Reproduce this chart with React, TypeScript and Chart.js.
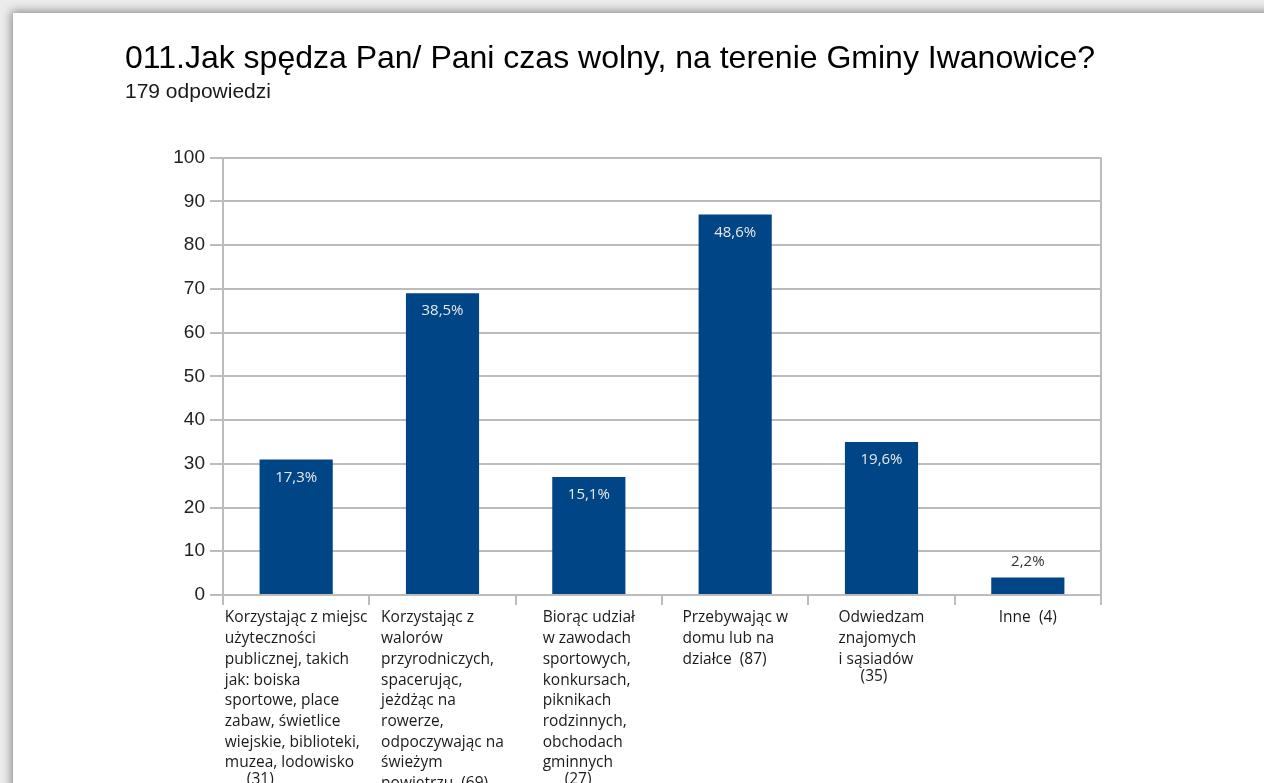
import React, { useEffect, useRef } from "react";
import { Chart, registerables } from "chart.js";

Chart.register(...registerables);

const TITLE = "011.Jak spędza Pan/ Pani czas wolny, na terenie Gminy Iwanowice?";
const SUBTITLE = "179 odpowiedzi";
const TOTAL = 179;

const categoryLines: string[][] = [
  [
    "Korzystając z miejsc",
    "użyteczności",
    "publicznej, takich",
    "jak: boiska",
    "sportowe, place",
    "zabaw, świetlice",
    "wiejskie, biblioteki,",
    "muzea, lodowisko",
  ],
  [
    "Korzystając z",
    "walorów",
    "przyrodniczych,",
    "spacerując,",
    "jeżdżąc na",
    "rowerze,",
    "odpoczywając na",
    "świeżym",
    "powietrzu",
  ],
  [
    "Biorąc udział",
    "w zawodach",
    "sportowych,",
    "konkursach,",
    "piknikach",
    "rodzinnych,",
    "obchodach",
    "gminnych",
  ],
  ["Przebywając w", "domu lub na", "działce"],
  ["Odwiedzam", "znajomych", "i sąsiadów"],
  ["Inne"],
];
const counts = [31, 69, 27, 87, 35, 4];
const countOnOwnLine = [true, false, true, false, true, false];

const Y_MIN = 0;
const Y_MAX = 100;
const Y_STEP = 10;

const BAR_COLOR = "#004586";
const GRID_COLOR = "#bcbcbc";
const LABEL_FONT = "'Open Sans'";

const categories = categoryLines.map((l) => l.join(" "));
const percentLabels = counts.map((c) => ((c / TOTAL) * 100).toFixed(1).replace(".", ",") + "%");

const labelsPlugin = {
  id: "customLabels",
  afterDatasetsDraw(chart: any) {
    const ctx = chart.ctx;
    const meta = chart.getDatasetMeta(0);
    ctx.save();
    ctx.font = `15px ${LABEL_FONT}`;
    ctx.textAlign = "center";
    ctx.textBaseline = "middle";
    meta.data.forEach((bar: any, i: number) => {
      const h = bar.base - bar.y;
      if (h > 30) {
        ctx.fillStyle = "#e8e8e8";
        ctx.fillText(percentLabels[i], bar.x, bar.y + 18);
      } else {
        ctx.fillStyle = "#333333";
        ctx.fillText(percentLabels[i], bar.x, bar.y - 16);
      }
    });
    ctx.restore();
  },
  afterDraw(chart: any) {
    const ctx = chart.ctx;
    const xs = chart.scales.x;
    const area = chart.chartArea;
    ctx.save();
    // right wall line
    ctx.strokeStyle = GRID_COLOR;
    ctx.lineWidth = 2;
    ctx.beginPath();
    ctx.moveTo(area.right, area.top);
    ctx.lineTo(area.right, area.bottom);
    ctx.stroke();

    ctx.font = `15.5px ${LABEL_FONT}`;
    ctx.fillStyle = "#1a1a1a";
    ctx.textAlign = "left";
    ctx.textBaseline = "middle";
    const lineH = 20.7;
    const y0 = area.bottom + 23;
    categoryLines.forEach((lines, i) => {
      const cx = xs.getPixelForValue(i);
      const all = lines.slice();
      const countText = `(${counts[i]})`;
      if (!countOnOwnLine[i]) all[all.length - 1] = all[all.length - 1] + "  " + countText;
      const maxW = Math.max(...all.map((l) => ctx.measureText(l).width));
      const left = cx - maxW / 2;
      all.forEach((l, k) => ctx.fillText(l, left, y0 + k * lineH));
      if (countOnOwnLine[i]) {
        ctx.fillText(countText, left + 22, y0 + (all.length - 1) * lineH + 17);
      }
    });
    ctx.restore();
  },
};

export default function App() {
  const ref = useRef<HTMLCanvasElement>(null);
  useEffect(() => {
    if (!ref.current) return;
    const chart = new Chart(ref.current, {
      type: "bar",
      data: {
        labels: categories,
        datasets: [
          {
            data: counts,
            backgroundColor: BAR_COLOR,
            barPercentage: 0.5,
            categoryPercentage: 1,
          },
        ],
      },
      options: {
        responsive: false,
        animation: false,
        layout: { padding: { top: 0, left: 125, right: 163, bottom: 0 } },
        plugins: {
          legend: { display: false },
          tooltip: { enabled: false },
          title: {
            display: true,
            text: TITLE,
            align: "start",
            color: "#000000",
            font: { family: "Liberation Sans", size: 32, weight: "normal" },
            padding: { top: 40, bottom: 0 },
          },
          subtitle: {
            display: true,
            text: SUBTITLE,
            align: "start",
            color: "#1a1a1a",
            font: { family: "Liberation Sans", size: 21, weight: "normal" },
            padding: { top: 1, bottom: 53 },
          },
        },
        scales: {
          x: {
            grid: {
              display: true,
              drawOnChartArea: false,
              drawTicks: true,
              tickLength: 10,
              tickColor: GRID_COLOR,
              color: GRID_COLOR,
              lineWidth: 2,
              offset: true,
            },
            border: { display: true, color: GRID_COLOR, width: 2 },
            ticks: { display: false },
            afterFit: (s: any) => {
              s.height = 205;
            },
          },
          y: {
            min: Y_MIN,
            max: Y_MAX,
            ticks: {
              stepSize: Y_STEP,
              color: "#222222",
              padding: 5,
              font: { family: "Liberation Sans", size: 19 },
            },
            grid: { color: GRID_COLOR, lineWidth: 2, tickLength: 13 },
            border: { display: true, color: GRID_COLOR, width: 2 },
            afterFit: (s: any) => {
              s.width = 98;
            },
          },
        },
      },
      plugins: [labelsPlugin],
    });
    return () => chart.destroy();
  }, []);

  return (
    <div
      style={{
        position: "fixed",
        left: 0,
        top: 0,
        width: 1264,
        height: 783,
        overflow: "hidden",
        background: "#ececec",
      }}
    >
      <div
        style={{
          position: "absolute",
          left: 13,
          top: 13,
          width: 1300,
          height: 820,
          background: "#ffffff",
          boxShadow: "-2px -2px 9px rgba(0,0,0,0.4)",
        }}
      />
      <canvas
        ref={ref}
        width={1264}
        height={800}
        style={{ position: "absolute", left: 0, top: 0, display: "block" }}
      />
    </div>
  );
}
